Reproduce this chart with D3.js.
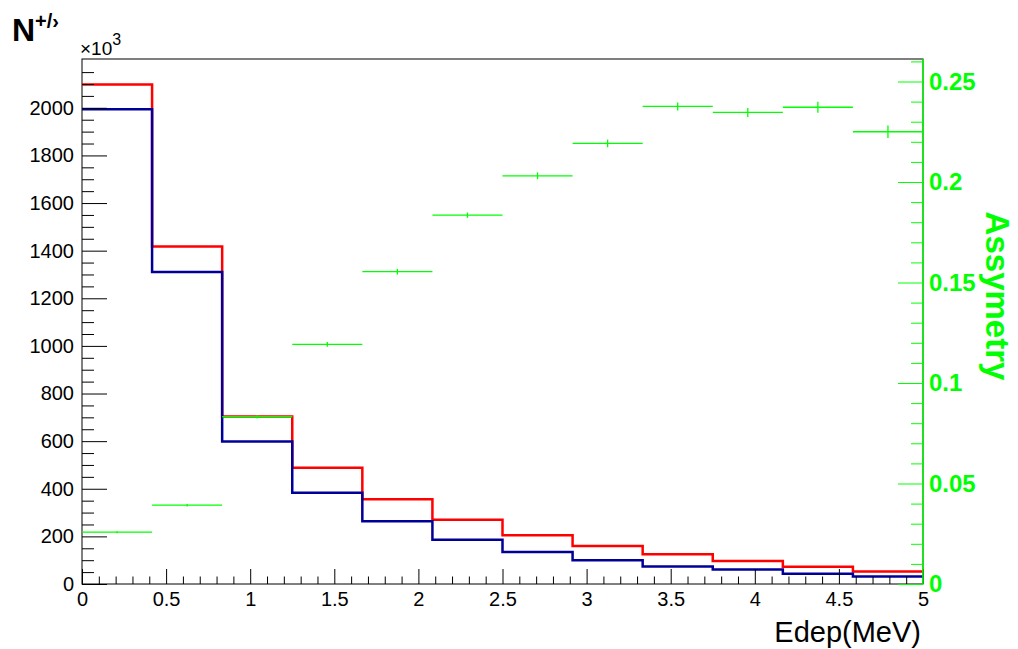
<!DOCTYPE html>
<html>
<head>
<meta charset="utf-8">
<title>Edep asymmetry</title>
<script src="https://cdn.jsdelivr.net/npm/d3@7/dist/d3.min.js"></script>
<style>
  body { margin: 0; background: #fff; }
  text { font-family: "Liberation Sans", Arial, Helvetica, sans-serif; }
</style>
</head>
<body>
<div id="chart"></div>
<script>
// bin edges in MeV (12 bins from 0 to 5)
var binEdges = d3.range(13).map(function(i){ return i * 5 / 12; });
// counts (x10^3)
var nPlus  = [2098, 1417, 703, 488, 356, 270, 205, 160, 125, 97, 72, 52];
var nMinus = [1994, 1310, 598, 383, 264, 186, 134, 100, 74, 61, 43, 31];
// asymmetry per bin and its error
var asym    = [0.0258, 0.0392, 0.0832, 0.1192, 0.1554, 0.1835, 0.2031, 0.2192, 0.2376, 0.2346, 0.2372, 0.2250];
var asymErr = [0.0005, 0.0006, 0.0008, 0.0012, 0.0014, 0.0013, 0.0017, 0.0019, 0.0020, 0.0022, 0.0027, 0.0031];

var xTicks = [0, 0.5, 1, 1.5, 2, 2.5, 3, 3.5, 4, 4.5, 5];
var yTicks = [0, 200, 400, 600, 800, 1000, 1200, 1400, 1600, 1800, 2000];
var rTicks = [0, 0.05, 0.1, 0.15, 0.2, 0.25];

var W = 1018, H = 649;
var m = {left: 82, right: 923, top: 59, bottom: 584};

var svg = d3.select("#chart").append("svg")
  .attr("width", W)
  .attr("height", H);

var x = d3.scaleLinear().domain([0, 5]).range([m.left, m.right]);
var y = d3.scaleLinear().domain([0, 2205]).range([m.bottom, m.top]);
var yR = d3.scaleLinear().domain([0, 0.2612]).range([m.bottom, m.top]);

// frame
svg.append("rect")
  .attr("x", m.left).attr("y", m.top)
  .attr("width", m.right - m.left).attr("height", m.bottom - m.top)
  .attr("fill", "none").attr("stroke", "#000").attr("stroke-width", 1);

// step path for a histogram
function histPath(vals) {
  var p = vals.map(function(v, i){ return [binEdges[i], v]; });
  p.push([binEdges[vals.length], vals[vals.length - 1]]);
  return d3.line()
    .x(function(d){ return x(d[0]); })
    .y(function(d){ return y(d[1]); })
    .curve(d3.curveStepAfter)(p);
}

svg.append("path")
  .attr("d", histPath(nPlus))
  .attr("fill", "none").attr("stroke", "#ff0000").attr("stroke-width", 2.5);

svg.append("path")
  .attr("d", histPath(nMinus))
  .attr("fill", "none").attr("stroke", "#000099").attr("stroke-width", 2.5);

// asymmetry points with error bars
var pts = svg.append("g").selectAll("g")
  .data(asym.map(function(a, i){ return {lo: binEdges[i], hi: binEdges[i+1], v: a, e: asymErr[i]}; }))
  .enter().append("g");

pts.append("line")
  .attr("x1", function(d){ return x(d.lo); })
  .attr("x2", function(d){ return x(d.hi); })
  .attr("y1", function(d){ return yR(d.v); })
  .attr("y2", function(d){ return yR(d.v); })
  .attr("stroke", "#00ff00").attr("stroke-width", 1.3);

pts.append("line")
  .attr("x1", function(d){ return x((d.lo + d.hi) / 2); })
  .attr("x2", function(d){ return x((d.lo + d.hi) / 2); })
  .attr("y1", function(d){ return yR(d.v - d.e); })
  .attr("y2", function(d){ return yR(d.v + d.e); })
  .attr("stroke", "#00ff00").attr("stroke-width", 1.3);

// left axis
var minorY = d3.range(0, 2151, 50).filter(function(v){ return v % 200 !== 0; });
svg.append("g")
  .attr("transform", "translate(" + m.left + ",0)")
  .call(d3.axisLeft(y).tickValues(minorY).tickSize(-12).tickFormat(""))
  .call(function(g){ g.select(".domain").remove(); });
var gy = svg.append("g")
  .attr("transform", "translate(" + m.left + ",0)")
  .call(d3.axisLeft(y).tickValues(yTicks).tickSize(-25).tickPadding(8).tickFormat(d3.format("d")));
gy.select(".domain").remove();
gy.selectAll("text").attr("font-size", 20).attr("fill", "#000")
  .style("font-family", "'Liberation Sans', Arial, sans-serif");

// bottom axis
var minorX = d3.range(0, 51).map(function(i){ return i / 10; })
  .filter(function(v, i){ return i % 5 !== 0; });
svg.append("g")
  .attr("transform", "translate(0," + m.bottom + ")")
  .call(d3.axisBottom(x).tickValues(minorX).tickSize(-7.5).tickFormat(""))
  .call(function(g){ g.select(".domain").remove(); });
var gx = svg.append("g")
  .attr("transform", "translate(0," + m.bottom + ")")
  .call(d3.axisBottom(x).tickValues(xTicks).tickSize(-15).tickPadding(8).tickFormat(d3.format("")));
gx.select(".domain").remove();
gx.selectAll("text").attr("font-size", 20).attr("fill", "#000")
  .style("font-family", "'Liberation Sans', Arial, sans-serif");

// right axis (asymmetry)
var minorR = d3.range(0, 27).map(function(i){ return i / 100; })
  .filter(function(v, i){ return i % 5 !== 0 && v <= 0.2612; });
svg.append("g")
  .attr("transform", "translate(" + m.right + ",0)")
  .call(d3.axisRight(yR).tickValues(minorR).tickSize(-12).tickFormat(""))
  .call(function(g){
    g.select(".domain").remove();
    g.selectAll("line").attr("stroke", "#00ff00");
  });
var gr = svg.append("g")
  .attr("transform", "translate(" + m.right + ",0)")
  .call(d3.axisRight(yR).tickValues(rTicks).tickSize(-25).tickPadding(6).tickFormat(d3.format("")));
gr.select(".domain").remove();
gr.selectAll("line").attr("stroke", "#00ff00");
gr.selectAll("text").attr("font-size", 24).attr("font-weight", "bold").attr("fill", "#00ff00")
  .style("font-family", "'Liberation Sans', Arial, sans-serif");

svg.append("line")
  .attr("x1", m.right).attr("x2", m.right).attr("y1", m.top).attr("y2", m.bottom)
  .attr("stroke", "#00ff00").attr("stroke-width", 1.5);

// titles
var ttl = svg.append("text")
  .attr("x", 12).attr("y", 41)
  .attr("font-size", 32).attr("font-weight", "bold");
ttl.append("tspan").text("N");
ttl.append("tspan").attr("dy", -13).attr("font-size", 20).text("+/\u203a");

var ex = svg.append("text")
  .attr("x", 80).attr("y", 55)
  .attr("font-size", 19);
ex.append("tspan").text("\u00d710");
ex.append("tspan").attr("dy", -10).attr("font-size", 16).text("3");

svg.append("text")
  .attr("x", 921).attr("y", 642)
  .attr("text-anchor", "end")
  .attr("font-size", 29)
  .text("Edep(MeV)");

svg.append("text")
  .attr("transform", "translate(986,296) rotate(90)")
  .attr("text-anchor", "middle")
  .attr("font-size", 33).attr("font-weight", "bold")
  .attr("fill", "#00ff00")
  .text("Assymetry");
</script>
</body>
</html>
